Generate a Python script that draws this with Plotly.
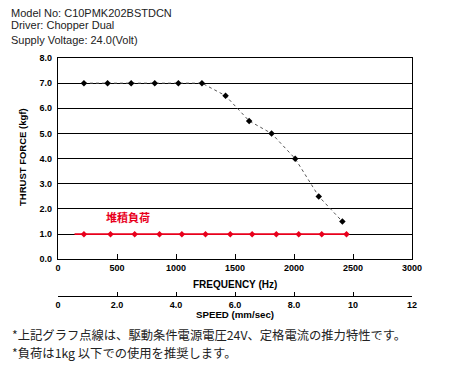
import plotly.graph_objects as go

# ---- data ----
freq_hz = [220, 420, 620, 820, 1020, 1220, 1420, 1620, 1810, 2010, 2210, 2410]
thrust_kgf = [7.0, 7.0, 7.0, 7.0, 7.0, 7.0, 6.5, 5.5, 5.0, 4.0, 2.5, 1.5]

load_freq_hz = [220, 445, 650, 860, 1050, 1250, 1460, 1645, 1850, 2040, 2235, 2445]
load_kgf = [1.0] * 12
load_line_x = [140, 2445]
load_line_y = [1.0, 1.0]
load_label = "堆積負荷"

freq_ticks = [0, 500, 1000, 1500, 2000, 2500, 3000]
speed_ticks = [0, 2, 4, 6, 8, 10, 12]
speed_labels = ["0", "2.0", "4.0", "6.0", "8.0", "10", "12"]
y_ticks = [0, 1, 2, 3, 4, 5, 6, 7, 8]
y_labels = ["0.0", "1.0", "2.0", "3.0", "4.0", "5.0", "6.0", "7.0", "8.0"]

header_lines = ["Model No: C10PMK202BSTDCN", "Driver: Chopper Dual", "Supply Voltage: 24.0(Volt)"]
notes = ["*上記グラフ点線は、駆動条件電源電圧24V、定格電流の推力特性です。",
         "*負荷は1kg 以下での使用を推奨します。"]

W, H = 450, 370
OFF = 8  # page body margin in the rendered html
ML, MR, MT, MB = 58, 38, 58, 74
plot_bottom_px = 259.3
paper_h = H - MT - MB


def px(x):
    return (x - ML) / (W - ML - MR)


def py(y):
    return (H - MB - y) / paper_h


FONT = "Liberation Sans, Arial, sans-serif"
JP = "Noto Sans CJK JP, sans-serif"

fig = go.Figure()
fig.add_trace(go.Scatter(x=load_line_x, y=load_line_y, mode="lines",
                         line=dict(color="#e8001c", width=1.6), showlegend=False))
fig.add_trace(go.Scatter(x=load_freq_hz, y=load_kgf, mode="markers",
                         marker=dict(color="#e8001c", size=5, symbol="diamond"), showlegend=False))
fig.add_trace(go.Scatter(x=freq_hz, y=thrust_kgf, mode="lines+markers",
                         line=dict(color="#555555", width=1, dash="dot"),
                         marker=dict(color="black", size=5, symbol="diamond"), showlegend=False))
# invisible trace to activate xaxis2
fig.add_trace(go.Scatter(x=[0, 12], y=[None, None], xaxis="x2", mode="lines", showlegend=False,
                         hoverinfo="skip"))

ydom0 = py(plot_bottom_px)
fig.update_layout(
    width=W - OFF, height=H - OFF,
    margin=dict(l=ML - OFF, r=MR, t=MT - OFF, b=MB, autoexpand=False),
    paper_bgcolor="white", plot_bgcolor="white",
    showlegend=False,
    font=dict(family=FONT, color="black"),
    xaxis=dict(range=[0, 3000], tickvals=freq_ticks, ticks="inside", ticklen=5, tickwidth=1.2,
               tickcolor="black", showline=True, linecolor="black", linewidth=1.3, mirror=True,
               showgrid=False, zeroline=False,
               tickfont=dict(size=9, family=FONT, weight="bold"), anchor="y"),
    xaxis2=dict(range=[0, 12], tickvals=speed_ticks, ticktext=speed_labels, ticks="inside",
                ticklen=4, tickwidth=1.2, tickcolor="black", showline=True, linecolor="black",
                linewidth=1.3, showgrid=False, zeroline=False, anchor="free", position=0,
                overlaying="x", side="bottom",
                tickfont=dict(size=9, family=FONT, weight="bold")),
    yaxis=dict(range=[0, 8], domain=[ydom0, 1], tickvals=y_ticks, ticktext=y_labels,
               ticks="", showline=True, linecolor="black", linewidth=1.3, mirror=True,
               showgrid=True, gridcolor="black", gridwidth=1.3, zeroline=False,
               ticklabelstandoff=3,
               tickfont=dict(size=9, family=FONT, weight="bold")),
)

ann = []
header_y = [13, 25, 40]
for t, yy in zip(header_lines, header_y):
    ann.append(dict(text=t, x=px(9), y=py(yy), xref="paper", yref="paper",
                    xanchor="left", yanchor="middle", showarrow=False,
                    font=dict(size=11, family=FONT, color="#222")))
ann.append(dict(text="THRUST FORCE (kgf)", x=px(22), y=py(157), xref="paper", yref="paper",
                textangle=-90, showarrow=False, xanchor="center", yanchor="middle",
                font=dict(size=9.5, family=FONT, weight="bold")))
ann.append(dict(text="FREQUENCY (Hz)", x=px(235), y=py(284), xref="paper", yref="paper",
                showarrow=False, xanchor="center", yanchor="middle",
                font=dict(size=10, family=FONT, weight="bold")))
ann.append(dict(text="SPEED (mm/sec)", x=px(235), y=py(314), xref="paper", yref="paper",
                showarrow=False, xanchor="center", yanchor="middle",
                font=dict(size=9.7, family=FONT, weight="bold")))
ann.append(dict(text=load_label, x=px(128), y=py(217), xref="paper", yref="paper",
                showarrow=False, xanchor="center", yanchor="middle",
                font=dict(size=11, family=JP, color="#e8001c", weight="bold")))
for i, t in enumerate(notes):
    ann.append(dict(text=t, x=px(10), y=py(335 + i * 18), xref="paper", yref="paper",
                    xanchor="left", yanchor="middle", showarrow=False,
                    font=dict(size=12.3, family=JP, color="#222")))
fig.update_layout(annotations=ann)

fig.write_html("out.html")
